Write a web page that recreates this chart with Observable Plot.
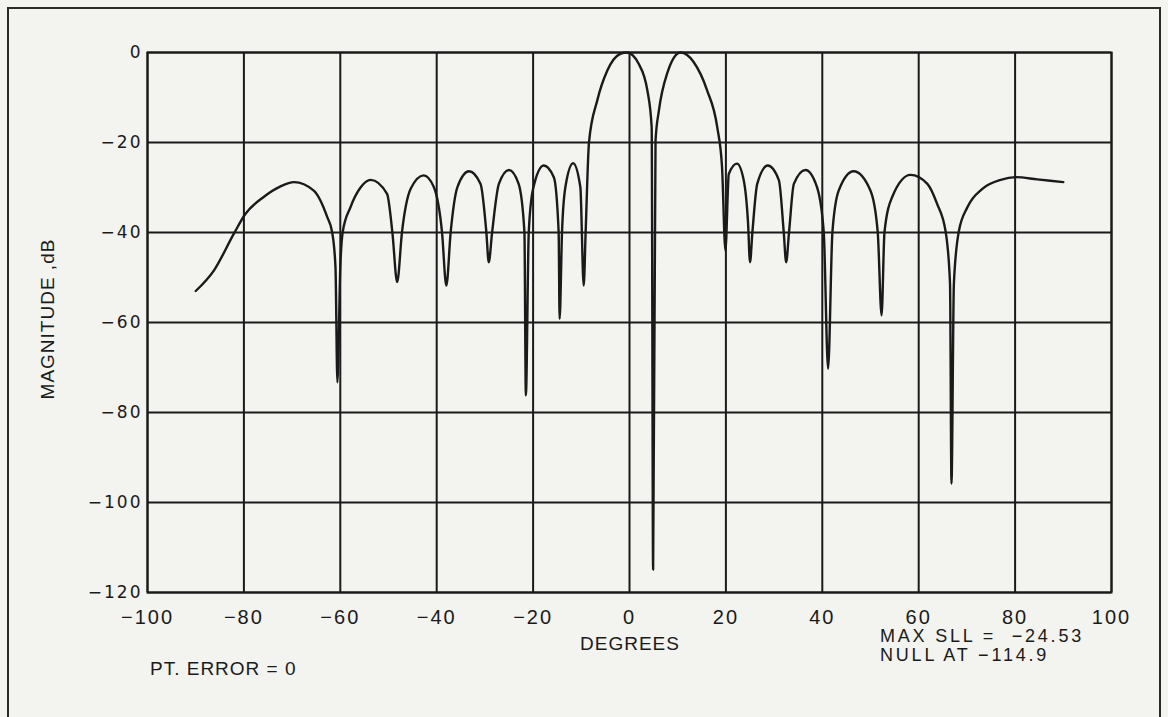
<!DOCTYPE html>
<html><head><meta charset="utf-8">
<script src="https://cdn.jsdelivr.net/npm/d3@7"></script>
<script src="https://cdn.jsdelivr.net/npm/@observablehq/plot@0.6"></script>
<style>
html,body{margin:0;padding:0;background:#f3f3ef;}
#wrap{position:relative;width:1168px;height:717px;overflow:hidden;background:#f3f3ef;font-family:"Liberation Sans",Arial,sans-serif;color:#1a1a1a;}
#border{position:absolute;left:7px;top:7px;width:1154px;height:740px;border:2px solid #2a2a2a;box-sizing:border-box;}
#chart{position:absolute;left:0;top:0;}
.t{position:absolute;font-size:19px;letter-spacing:1px;white-space:pre;line-height:1;transform:translateY(-50%);}
.r{letter-spacing:2.8px;font-size:18px;}
#chart g[aria-label="y-axis tick label"] text{letter-spacing:2px;}
#chart g[aria-label="x-axis tick label"] text{letter-spacing:2px;}
</style>
</head><body>
<div id="wrap">
  <div id="border"></div>
  <div id="chart"></div>
  <div class="t" id="ylab" style="left:47px;top:319px;transform:translate(-50%,-50%) rotate(-90deg);">MAGNITUDE ,dB</div>
  <div class="t" style="left:630px;top:643px;transform:translate(-50%,-50%);">DEGREES</div>
  <div class="t" style="left:150px;top:668px;">PT. ERROR = 0</div>
  <div class="t r" style="left:880px;top:636px;">MAX SLL =  −24.53</div>
  <div class="t r" style="left:880px;top:655px;">NULL AT −114.9</div>
</div>
<script>
const degrees = [
  -90, -86.2, -82.1, -79.7, -75.9, -72.5, -69.6, -65.5, -62.7, -61.7, -61.0, -60.6, -60.0, -59.5, -57.9, -55.8, -53.7, -50.3,
  -49.2, -48.2, -47.2, -45.4, -42.7, -40.6, -38.9, -38.0, -37.1, -35.7, -33.3, -30.9, -29.7, -29.2, -28.5, -27.1, -25.0, -23.0,
  -21.8, -21.5, -20.9, -20.0, -17.8, -15.7, -14.7, -14.5, -14.0, -13.3, -11.7, -10.2, -9.5, -9.1, -8.4, -6.7, -4.6, -1.9,
  -0.5, 1.9, 3.7, 4.6, 4.9, 5.4, 6.1, 7.8, 10.6, 13.3, 16.1, 18.2, 19.2, 19.9, 20.6, 22.3, 23.7, 24.6,
  25.0, 25.5, 26.5, 28.7, 31.0, 32.0, 32.5, 33.1, 34.1, 36.5, 38.9, 40.3, 41.2, 42.1, 43.4, 46.5, 50.0, 51.5,
  52.3, 52.9, 54.5, 58.3, 61.8, 63.8, 65.6, 66.5, 66.8, 67.3, 68.3, 70.1, 73.2, 77.0, 80.1, 84.6, 90.0
];
const magnitudeDb = [
  -53.0, -48.4, -40.3, -35.9, -32.1, -29.8, -28.8, -30.7, -36.6, -39.9, -47.7, -73.3, -47.7, -39.9, -34.4, -30.0, -28.3, -31.4,
  -39.9, -51.0, -39.9, -30.3, -27.3, -29.9, -39.9, -51.8, -39.9, -29.9, -26.4, -29.2, -39.9, -46.6, -39.9, -29.2, -26.1, -29.2,
  -39.9, -76.2, -39.9, -30.3, -25.1, -27.7, -39.9, -59.2, -39.9, -29.9, -24.6, -29.9, -51.8, -39.9, -19.9, -10.7, -4.0, -0.3,
  0, -2.5, -8.4, -16.6, -114.9, -19.6, -12.9, -4.7, 0, -2.1, -8.4, -16.6, -25.5, -44, -27.0, -24.7, -28.4, -38,
  -46.6, -39.9, -29.2, -25.1, -28.4, -39.9, -46.6, -39.9, -29.2, -26.1, -29.9, -39.9, -70.3, -39.9, -30.7, -26.4, -30.7, -39.9,
  -58.4, -39.9, -32.1, -27.2, -29.2, -33.6, -39.9, -51.4, -95.8, -51.4, -39.9, -34.4, -30.3, -28.3, -27.7, -28.2, -28.8
];
const xTicks = [-100, -80, -60, -40, -20, 0, 20, 40, 60, 80, 100];
const yTicks = [0, -20, -40, -60, -80, -100, -120];

const data = degrees.map((d, i) => ({deg: d, db: magnitudeDb[i]}));
const ink = "#1a1a1a";

const chart = Plot.plot({
  width: 1168,
  height: 650,
  marginLeft: 147,
  marginRight: 57,
  marginTop: 52,
  marginBottom: 58,
  style: {background: "transparent", color: ink, fontFamily: "\"Liberation Sans\", Arial, sans-serif"},
  x: {domain: [-100, 100]},
  y: {domain: [-120, 0]},
  marks: [
    Plot.gridX(xTicks, {stroke: ink, strokeOpacity: 1, strokeWidth: 2}),
    Plot.gridY(yTicks, {stroke: ink, strokeOpacity: 1, strokeWidth: 2}),
    Plot.frame({stroke: ink, strokeWidth: 2}),
    Plot.axisX(xTicks, {tickSize: 0, tickPadding: 17, fontSize: 20, label: null}),
    Plot.axisY(yTicks, {tickSize: 0, tickPadding: 5, fontSize: 17, fontFamily: "DejaVu Sans", label: null}),
    Plot.line(data, {x: "deg", y: "db", curve: "monotone-x", stroke: ink, strokeWidth: 2.4})
  ]
});
document.getElementById("chart").appendChild(chart);
</script>
</body></html>
